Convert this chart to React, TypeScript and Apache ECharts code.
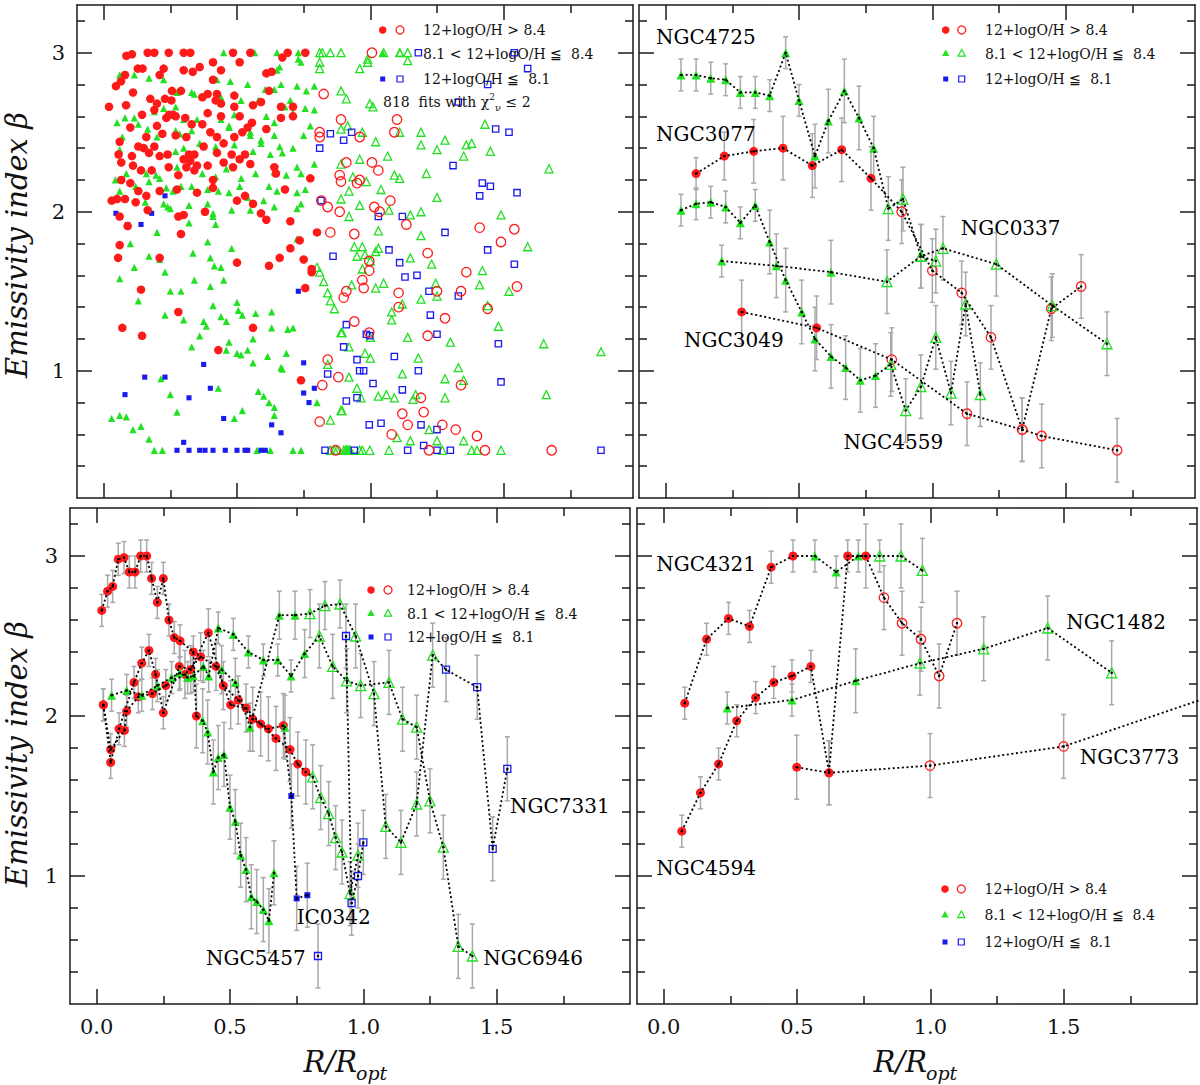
import { useEffect, useRef } from 'react';
import * as echarts from 'echarts';

const FONT = '"DejaVu Serif", serif';
const RED = '#ff1a1a';
const GREEN = '#22e022';
const BLUE = '#1a1aee';
const INK = '#1a1a1a';

// axis ticks
const xMajorTicks = [0, 0.5, 1, 1.5];
const xMinorTicks = [0.25, 0.75, 1.25, 1.75];
const yMajorTicks = [1, 2, 3];
const yMinorTicks = [0.4, 0.6, 0.8, 1.2, 1.4, 1.6, 1.8, 2.2, 2.4, 2.6, 2.8, 3.2];

const legendTexts = ['12+logO/H > 8.4', '8.1 < 12+logO/H ≦  8.4', '12+logO/H ≦  8.1'];

// ---- top-left: all fits ----
const tlRedFilled = [
  [0.085, 2.98], [0.106, 2.99], [0.165, 3.0], [0.19, 3.0], [0.244, 3.0], [0.3, 3.0], [0.325, 3.0], [0.485, 3.0], [0.55, 3.0],
  [0.69, 3.0], [0.756, 3.0], [0.67, 2.97], [0.128, 2.9], [0.146, 2.9], [0.21, 2.86], [0.225, 2.9], [0.3, 2.89], [0.334, 2.88],
  [0.36, 2.91], [0.41, 2.94], [0.44, 2.89], [0.51, 2.94], [0.61, 2.87], [0.63, 2.88], [0.08, 2.86], [0.065, 2.82], [0.046, 2.79],
  [0.11, 2.75], [0.084, 2.67], [0.02, 2.66], [0.256, 2.76], [0.29, 2.76], [0.254, 2.7], [0.175, 2.71], [0.2, 2.68], [0.23, 2.71],
  [0.39, 2.74], [0.37, 2.72], [0.41, 2.83], [0.425, 2.74], [0.49, 2.73], [0.44, 2.68], [0.42, 2.7], [0.49, 2.66], [0.56, 2.67],
  [0.59, 2.69], [0.62, 2.76], [0.665, 2.66], [0.71, 2.66], [0.144, 2.61], [0.19, 2.64], [0.235, 2.59], [0.246, 2.61], [0.26, 2.61],
  [0.27, 2.6], [0.306, 2.59], [0.33, 2.55], [0.37, 2.55], [0.39, 2.62], [0.44, 2.6], [0.51, 2.6], [0.54, 2.53], [0.556, 2.56],
  [0.61, 2.52], [0.665, 2.59], [0.71, 2.6], [0.1, 2.53], [0.16, 2.47], [0.2, 2.54], [0.22, 2.49], [0.27, 2.48], [0.31, 2.47],
  [0.4, 2.5], [0.425, 2.47], [0.45, 2.43], [0.49, 2.47], [0.52, 2.5], [0.06, 2.44], [0.106, 2.35], [0.13, 2.41], [0.15, 2.4],
  [0.17, 2.37], [0.19, 2.41], [0.24, 2.36], [0.21, 2.35], [0.375, 2.41], [0.34, 2.36], [0.32, 2.36], [0.3, 2.33], [0.325, 2.32],
  [0.35, 2.29], [0.39, 2.29], [0.425, 2.37], [0.45, 2.31], [0.48, 2.36], [0.51, 2.33], [0.53, 2.36], [0.55, 2.3], [0.056, 2.36],
  [0.066, 2.31], [0.11, 2.29], [0.14, 2.26], [0.18, 2.26], [0.244, 2.28], [0.28, 2.23], [0.31, 2.28], [0.34, 2.26], [0.41, 2.2],
  [0.485, 2.28], [0.64, 2.28], [0.646, 2.24], [0.066, 2.2], [0.1, 2.18], [0.13, 2.13], [0.16, 2.1], [0.21, 2.13], [0.275, 2.14],
  [0.35, 2.12], [0.41, 2.15], [0.5, 2.07], [0.53, 2.1], [0.56, 2.05], [0.59, 1.99], [0.61, 1.95], [0.68, 2.14], [0.7, 1.94],
  [0.775, 2.21], [0.03, 2.07], [0.05, 2.08], [0.06, 1.97], [0.08, 2.08], [0.09, 1.91], [0.12, 2.06], [0.165, 2.01], [0.28, 1.97],
  [0.3, 1.98], [0.38, 2.0], [0.29, 1.86], [0.06, 1.79], [0.7, 1.77], [0.735, 1.82], [0.8, 1.87], [0.054, 1.71], [0.21, 1.71],
  [0.5, 1.68], [0.62, 1.66], [0.66, 1.71], [0.75, 1.7], [0.78, 1.64], [0.78, 1.62], [0.14, 1.51], [0.756, 1.52], [0.28, 1.37],
  [0.07, 1.27], [0.144, 1.22], [0.56, 1.27], [0.43, 1.13], [0.74, 0.94],
];
const tlRedOpen = [
  [0.825, 2.74], [0.89, 2.58], [0.81, 2.5], [0.81, 2.47], [0.91, 2.31], [0.885, 2.23], [0.89, 2.19], [0.95, 2.18], [0.885, 2.0],
  [0.816, 2.07], [0.84, 2.03], [0.85, 1.87], [0.94, 1.86], [1.006, 3.0], [1.1, 2.58], [1.09, 2.5], [0.96, 2.47], [1.006, 2.31],
  [1.03, 2.26], [0.96, 2.2], [1.075, 2.07], [1.015, 2.03], [1.035, 2.0], [1.135, 1.92], [1.41, 1.9], [1.54, 1.89], [1.49, 1.81],
  [0.84, 1.07], [0.82, 0.91], [0.88, 0.96], [0.81, 0.68], [0.9, 1.46], [0.91, 1.5], [0.94, 1.31], [0.87, 0.5], [1.215, 1.74],
  [0.996, 1.69], [0.996, 1.63], [1.36, 1.62], [0.97, 1.57], [0.975, 1.52], [1.106, 1.49], [1.25, 1.5], [1.34, 1.5], [1.55, 1.53],
  [1.106, 1.4], [1.44, 1.39], [1.28, 1.33], [0.996, 1.24], [1.215, 1.22], [1.34, 0.91], [1.19, 0.83], [1.2, 0.74], [1.12, 0.73],
  [1.14, 0.66], [1.27, 0.66], [1.32, 0.63], [1.08, 0.6], [1.4, 0.59], [1.22, 0.5], [1.43, 0.5], [1.68, 0.5],
];
const tlGreenFilled = [
  [0.45, 3.0], [0.566, 3.0], [0.65, 3.0], [0.73, 3.0], [0.73, 2.96], [0.74, 2.94], [0.66, 2.91], [0.65, 2.89], [0.06, 2.86],
  [0.115, 2.86], [0.17, 2.84], [0.225, 2.83], [0.425, 2.83], [0.475, 2.82], [0.54, 2.8], [0.606, 2.77], [0.665, 2.8], [0.725, 2.79],
  [0.76, 2.76], [0.79, 2.79], [0.33, 2.75], [0.34, 2.74], [0.275, 2.75], [0.44, 2.72], [0.515, 2.7], [0.58, 2.7], [0.64, 2.77],
  [0.7, 2.7], [0.68, 2.66], [0.756, 2.65], [0.79, 2.64], [0.19, 2.63], [0.225, 2.65], [0.27, 2.66], [0.115, 2.59], [0.08, 2.59],
  [0.3, 2.58], [0.35, 2.58], [0.44, 2.58], [0.47, 2.54], [0.49, 2.61], [0.55, 2.5], [0.55, 2.48], [0.61, 2.6], [0.64, 2.56],
  [0.71, 2.62], [0.775, 2.54], [0.05, 2.56], [0.13, 2.55], [0.165, 2.52], [0.07, 2.47], [0.2, 2.47], [0.27, 2.51], [0.285, 2.49],
  [0.33, 2.51], [0.47, 2.53], [0.59, 2.45], [0.64, 2.48], [0.66, 2.41], [0.75, 2.48], [0.06, 2.39], [0.16, 2.4], [0.27, 2.38],
  [0.3, 2.4], [0.36, 2.43], [0.42, 2.41], [0.49, 2.42], [0.59, 2.43], [0.56, 2.38], [0.625, 2.36], [0.67, 2.37], [0.71, 2.4],
  [0.79, 2.3], [0.044, 2.2], [0.085, 2.24], [0.16, 2.24], [0.196, 2.23], [0.21, 2.21], [0.275, 2.28], [0.37, 2.24], [0.42, 2.22],
  [0.46, 2.27], [0.516, 2.21], [0.57, 2.24], [0.64, 2.25], [0.685, 2.23], [0.725, 2.28], [0.74, 2.24], [0.06, 2.13], [0.12, 2.16],
  [0.17, 2.19], [0.235, 2.15], [0.26, 2.13], [0.29, 2.16], [0.33, 2.16], [0.39, 2.14], [0.43, 2.13], [0.47, 2.12], [0.51, 2.16],
  [0.54, 2.09], [0.62, 2.16], [0.65, 2.13], [0.725, 2.12], [0.756, 2.14], [0.156, 2.06], [0.225, 2.05], [0.24, 2.03], [0.25, 2.02],
  [0.32, 2.04], [0.39, 2.05], [0.41, 1.99], [0.48, 2.01], [0.55, 2.01], [0.6, 2.07], [0.64, 2.03], [0.725, 2.02], [0.74, 2.05],
  [0.2, 1.87], [0.32, 1.93], [0.41, 1.97], [0.42, 1.92], [0.1, 1.8], [0.39, 1.81], [0.48, 1.77], [0.725, 1.83], [0.17, 1.72],
  [0.21, 1.7], [0.335, 1.74], [0.4, 1.71], [0.115, 1.65], [0.06, 1.58], [0.23, 1.62], [0.415, 1.66], [0.44, 1.65], [0.34, 1.57],
  [0.45, 1.57], [0.4, 1.53], [0.25, 1.5], [0.29, 1.5], [0.13, 1.44], [0.5, 1.43], [0.41, 1.41], [0.505, 1.38], [0.23, 1.35],
  [0.44, 1.34], [0.52, 1.35], [0.57, 1.36], [0.63, 1.37], [0.3, 1.32], [0.375, 1.31], [0.46, 1.31], [0.385, 1.28], [0.63, 1.27],
  [0.69, 1.26], [0.71, 1.27], [0.36, 1.22], [0.56, 1.2], [0.47, 1.18], [0.33, 1.15], [0.46, 1.13], [0.5, 1.11], [0.515, 1.1],
  [0.54, 1.13], [0.615, 1.09], [0.685, 1.11], [0.56, 1.05], [0.665, 1.02], [0.67, 1.01], [0.215, 0.95], [0.43, 0.89], [0.58, 0.87],
  [0.25, 0.85], [0.6, 0.84], [0.62, 0.8], [0.64, 0.77], [0.275, 0.74], [0.52, 0.75], [0.64, 0.72], [0.03, 0.7], [0.06, 0.72],
  [0.085, 0.71], [0.49, 0.7], [0.14, 0.65], [0.11, 0.63], [0.17, 0.57], [0.19, 0.5], [0.22, 0.5], [0.575, 0.5], [0.625, 0.5],
  [0.71, 0.5], [0.74, 0.5], [0.8, 0.8],
];
const tlGreenOpen = [
  [0.81, 3.0], [0.82, 3.0], [0.85, 3.0], [0.89, 3.0], [0.81, 2.94], [0.81, 2.9], [1.05, 3.0], [1.11, 3.0], [1.14, 3.0], [1.14, 2.95],
  [0.99, 2.96], [0.96, 2.9], [0.99, 2.94], [0.89, 2.76], [0.91, 2.71], [0.998, 2.68], [1.01, 2.66], [0.89, 2.52], [0.915, 2.54],
  [0.97, 2.5], [1.02, 2.44], [1.11, 2.5], [1.19, 2.5], [1.19, 2.42], [1.25, 2.39], [1.28, 2.45], [1.36, 2.42], [1.38, 2.43],
  [1.35, 2.35], [1.45, 2.38], [1.43, 2.55], [1.065, 2.35], [0.96, 2.33], [0.89, 2.3], [0.935, 2.22], [0.985, 2.19], [1.09, 2.23],
  [1.11, 2.21], [1.21, 2.24], [0.92, 2.13], [1.04, 2.14], [0.89, 2.08], [0.96, 2.04], [1.25, 2.09], [1.67, 2.27], [0.92, 1.97],
  [1.07, 2.01], [1.15, 1.98], [1.19, 2.0], [1.49, 1.98], [1.03, 1.88], [1.19, 1.85], [0.94, 1.78], [0.97, 1.78], [1.03, 1.77],
  [1.59, 1.78], [0.8, 1.65], [0.81, 1.62], [0.825, 1.56], [0.84, 1.49], [0.85, 1.44], [0.865, 1.39], [0.89, 1.24], [0.92, 1.15],
  [0.93, 1.54], [0.89, 0.75], [0.85, 0.69], [0.84, 1.04], [0.95, 0.89], [0.92, 0.96], [0.85, 0.5], [0.865, 0.5], [0.875, 0.5],
  [0.9, 0.5], [0.906, 0.5], [0.915, 0.5], [0.925, 0.5], [0.96, 0.5], [0.95, 1.72], [0.98, 1.73], [1.02, 1.75], [1.0, 1.69],
  [1.15, 1.71], [1.23, 1.67], [1.42, 1.63], [0.97, 1.64], [1.05, 1.55], [1.02, 1.52], [1.245, 1.55], [1.25, 1.47], [1.41, 1.54],
  [1.52, 1.5], [1.19, 1.45], [1.12, 1.42], [1.44, 1.41], [1.08, 1.37], [1.08, 1.32], [1.48, 1.28], [0.894, 1.24], [1.0, 1.21],
  [1.14, 1.21], [1.3, 1.18], [1.65, 1.17], [1.865, 1.12], [0.98, 1.11], [1.0, 1.08], [1.18, 1.08], [1.33, 1.02], [1.12, 0.98],
  [1.28, 0.95], [1.35, 0.94], [0.965, 0.83], [1.03, 0.84], [1.06, 0.85], [1.09, 0.83], [1.16, 0.82], [1.17, 0.85], [1.28, 0.83],
  [1.66, 0.85], [0.894, 0.75], [1.22, 0.63], [1.1, 0.58], [1.15, 0.56], [1.25, 0.56], [1.35, 0.56], [0.91, 0.5], [0.92, 0.5],
  [0.97, 0.5], [0.998, 0.5], [1.07, 0.5], [1.27, 0.5], [1.38, 0.5], [1.4, 0.5], [1.49, 0.5],
];
const tlBlueFilled = [
  [0.046, 1.99], [0.09, 1.92], [0.14, 1.92], [0.18, 1.99], [0.23, 2.1], [0.73, 1.5], [0.75, 1.05], [0.75, 0.86], [0.79, 0.89],
  [0.77, 0.8], [0.375, 1.04], [0.154, 0.96], [0.23, 0.96], [0.08, 0.85], [0.32, 0.83], [0.4, 0.89], [0.45, 0.7], [0.63, 0.66],
  [0.665, 0.61], [0.3, 0.55], [0.275, 0.5], [0.32, 0.5], [0.36, 0.5], [0.38, 0.5], [0.41, 0.5], [0.456, 0.5], [0.5, 0.5],
  [0.53, 0.5], [0.54, 0.5], [0.59, 0.5], [0.606, 0.5],
];
const tlBlueOpen = [
  [0.85, 2.49], [0.9, 2.45], [0.93, 2.5], [0.81, 2.4], [0.815, 2.07], [1.18, 3.0], [1.54, 3.0], [1.59, 2.9], [1.44, 2.8],
  [1.33, 2.69], [1.47, 2.52], [1.52, 2.5], [1.31, 2.29], [1.42, 2.18], [1.45, 2.16], [1.41, 2.1], [1.55, 2.12], [1.03, 1.97],
  [1.12, 1.97], [1.28, 1.87], [1.07, 1.76], [1.44, 1.76], [0.86, 1.72], [0.91, 1.29], [0.9, 1.15], [0.84, 0.98], [0.91, 0.81],
  [0.95, 1.07], [0.96, 1.0], [0.95, 0.83], [0.83, 0.5], [0.94, 0.5], [1.54, 1.67], [1.11, 1.68], [1.13, 1.59], [1.175, 1.6],
  [1.22, 1.5], [1.33, 1.47], [1.225, 1.35], [0.985, 1.23], [0.998, 1.22], [1.25, 1.23], [1.48, 1.17], [1.09, 1.09], [0.975, 1.0],
  [1.18, 1.0], [1.01, 0.92], [1.49, 0.93], [1.12, 0.88], [0.996, 0.66], [1.04, 0.67], [1.19, 0.66], [1.25, 0.63], [1.2, 0.53],
  [1.14, 0.5], [1.25, 0.5], [1.3, 0.5], [1.865, 0.5],
];

// ---- radial profiles: [R/Ropt, beta, error, marker kind] ----
type Pt = [number, number, number, string];

const ngc4725: Pt[] = [
  [0.0575, 2.86, 0.1, 'gf'], [0.114, 2.86, 0.1, 'gf'], [0.169, 2.84, 0.1, 'gf'], [0.225, 2.83, 0.1, 'gf'], [0.28, 2.75, 0.1, 'gf'],
  [0.336, 2.75, 0.1, 'gf'], [0.39, 2.73, 0.1, 'gf'], [0.45, 3.0, 0.1, 'gf'], [0.5, 2.7, 0.1, 'gf'], [0.56, 2.35, 0.2, 'gf'],
  [0.61, 2.57, 0.2, 'gf'], [0.67, 2.76, 0.2, 'gf'], [0.725, 2.59, 0.2, 'gf'], [0.78, 2.4, 0.2, 'gf'], [0.835, 2.02, 0.2, 'go'],
  [0.89, 2.08, 0.2, 'go'], [0.957, 1.72, 0.2, 'go'], [1.013, 1.69, 0.2, 'go'],
];
const ngc3077: Pt[] = [
  [0.114, 2.24, 0.1, 'rf'], [0.22, 2.35, 0.15, 'rf'], [0.33, 2.38, 0.2, 'rf'], [0.44, 2.4, 0.2, 'rf'], [0.55, 2.29, 0.2, 'rf'],
  [0.66, 2.39, 0.2, 'rf'], [0.77, 2.21, 0.2, 'rf'], [0.885, 2.0, 0.2, 'ro'], [1.0, 1.63, 0.2, 'ro'], [1.11, 1.49, 0.2, 'ro'],
  [1.22, 1.21, 0.2, 'ro'], [1.337, 0.63, 0.2, 'ro'], [1.446, 1.39, 0.2, 'ro'], [1.558, 1.53, 0.2, 'ro'],
];
const ngc4559: Pt[] = [
  [0.0575, 2.01, 0.1, 'gf'], [0.114, 2.05, 0.1, 'gf'], [0.169, 2.06, 0.1, 'gf'], [0.225, 2.03, 0.1, 'gf'], [0.28, 1.93, 0.1, 'gf'],
  [0.336, 2.04, 0.1, 'gf'], [0.39, 1.81, 0.2, 'gf'], [0.45, 1.57, 0.2, 'gf'], [0.51, 1.37, 0.2, 'gf'], [0.56, 1.2, 0.2, 'gf'],
  [0.62, 1.09, 0.2, 'gf'], [0.675, 1.02, 0.2, 'gf'], [0.73, 0.94, 0.2, 'gf'], [0.787, 0.97, 0.2, 'gf'], [0.844, 1.04, 0.2, 'go'],
  [0.9, 0.75, 0.2, 'go'], [0.957, 0.9, 0.2, 'go'], [1.013, 1.21, 0.2, 'go'], [1.07, 0.86, 0.2, 'go'], [1.125, 1.42, 0.2, 'go'],
  [1.18, 0.85, 0.2, 'go'],
];
const ngc0337: Pt[] = [
  [0.21, 1.69, 0.1, 'gf'], [0.415, 1.66, 0.2, 'gf'], [0.62, 1.62, 0.2, 'gf'], [0.83, 1.56, 0.2, 'go'], [0.957, 1.72, 0.2, 'go'],
  [1.04, 1.77, 0.2, 'go'], [1.24, 1.67, 0.2, 'go'], [1.45, 1.41, 0.2, 'go'], [1.655, 1.17, 0.2, 'go'],
];
const ngc3049: Pt[] = [
  [0.285, 1.37, 0.2, 'rf'], [0.566, 1.27, 0.2, 'rf'], [0.848, 1.07, 0.2, 'ro'], [1.13, 0.73, 0.2, 'ro'], [1.337, 0.63, 0.2, 'ro'],
  [1.41, 0.59, 0.2, 'ro'], [1.693, 0.5, 0.2, 'ro'],
];

const ngc5457: Pt[] = [
  [0.019, 2.66, 0.1, 'rf'], [0.041, 2.78, 0.1, 'rf'], [0.06, 2.81, 0.1, 'rf'], [0.081, 2.98, 0.1, 'rf'], [0.1025, 2.99, 0.1, 'rf'],
  [0.1225, 2.9, 0.1, 'rf'], [0.144, 2.9, 0.1, 'rf'], [0.165, 3.0, 0.1, 'rf'], [0.1875, 3.0, 0.1, 'rf'], [0.206, 2.86, 0.1, 'rf'],
  [0.2275, 2.71, 0.1, 'rf'], [0.25, 2.86, 0.1, 'rf'], [0.271, 2.6, 0.1, 'rf'], [0.291, 2.49, 0.1, 'rf'], [0.3125, 2.47, 0.1, 'rf'],
  [0.3625, 2.4, 0.1, 'rf'], [0.374, 2.0, 0.2, 'rf'], [0.3975, 1.97, 0.2, 'gf'], [0.416, 1.9, 0.2, 'gf'], [0.4375, 1.65, 0.2, 'gf'],
  [0.456, 1.74, 0.2, 'gf'], [0.4775, 1.76, 0.2, 'gf'], [0.5, 1.43, 0.2, 'gf'], [0.52, 1.34, 0.2, 'gf'], [0.54, 1.13, 0.2, 'gf'],
  [0.56, 1.04, 0.2, 'gf'], [0.58, 0.87, 0.2, 'gf'], [0.6, 0.84, 0.2, 'gf'], [0.625, 0.79, 0.2, 'gf'], [0.646, 0.72, 0.2, 'gf'],
  [0.665, 1.02, 0.2, 'gf'],
];
const ic0342: Pt[] = [
  [0.025, 2.07, 0.1, 'rf'], [0.0525, 1.71, 0.1, 'rf'], [0.084, 1.92, 0.1, 'rf'], [0.14, 2.21, 0.1, 'rf'], [0.169, 2.33, 0.1, 'rf'],
  [0.196, 2.41, 0.1, 'rf'], [0.221, 2.26, 0.1, 'rf'], [0.25, 2.02, 0.1, 'rf'], [0.31, 2.31, 0.15, 'rf'], [0.3525, 2.29, 0.15, 'rf'],
  [0.419, 2.52, 0.15, 'rf'], [0.475, 2.19, 0.15, 'rf'], [0.531, 2.1, 0.15, 'rf'], [0.585, 1.98, 0.2, 'rf'], [0.644, 1.92, 0.2, 'rf'],
  [0.7, 1.94, 0.2, 'rf'], [0.73, 1.5, 0.2, 'bf'], [0.75, 0.86, 0.2, 'bf'], [0.79, 0.88, 0.2, 'bf'],
];
const blProfileA: Pt[] = [
  [0.025, 2.07, 0.1, 'rf'], [0.0525, 1.79, 0.1, 'rf'], [0.104, 1.91, 0.1, 'rf'], [0.1125, 2.03, 0.1, 'rf'], [0.156, 2.12, 0.1, 'rf'],
  [0.209, 2.14, 0.1, 'rf'], [0.259, 2.19, 0.1, 'rf'], [0.331, 2.26, 0.15, 'rf'], [0.39, 2.37, 0.15, 'rf'], [0.4475, 2.31, 0.15, 'rf'],
  [0.5025, 2.07, 0.15, 'rf'], [0.56, 2.05, 0.15, 'rf'], [0.615, 1.95, 0.2, 'rf'], [0.6725, 1.86, 0.2, 'rf'], [0.725, 1.79, 0.2, 'rf'],
  [0.754, 1.7, 0.2, 'rf'], [0.784, 1.65, 0.2, 'rf'], [0.81, 1.62, 0.2, 'go'], [0.84, 1.49, 0.2, 'go'], [0.87, 1.39, 0.2, 'go'],
  [0.896, 1.24, 0.2, 'go'], [0.92, 1.15, 0.2, 'go'], [0.95, 0.89, 0.2, 'go'], [0.98, 1.13, 0.2, 'go'],
];
const ngc6946: Pt[] = [
  [0.056, 2.13, 0.1, 'gf'], [0.1125, 2.16, 0.1, 'gf'], [0.169, 2.13, 0.1, 'gf'], [0.2275, 2.19, 0.1, 'gf'], [0.281, 2.24, 0.1, 'gf'],
  [0.3125, 2.27, 0.1, 'gf'], [0.341, 2.24, 0.1, 'gf'], [0.3625, 2.25, 0.1, 'gf'], [0.4, 2.31, 0.1, 'gf'], [0.42, 2.25, 0.1, 'gf'],
  [0.456, 2.55, 0.1, 'gf'], [0.5125, 2.51, 0.1, 'gf'], [0.569, 2.4, 0.1, 'gf'], [0.625, 2.35, 0.1, 'gf'], [0.679, 2.35, 0.1, 'gf'],
  [0.729, 2.25, 0.1, 'gf'], [0.78, 2.39, 0.15, 'gf'], [0.835, 2.5, 0.2, 'go'], [0.885, 2.31, 0.2, 'go'], [0.9375, 2.22, 0.2, 'go'],
  [0.99, 2.19, 0.2, 'go'], [1.096, 2.21, 0.2, 'go'], [1.147, 1.98, 0.2, 'go'], [1.2, 1.93, 0.2, 'go'], [1.25, 1.47, 0.2, 'go'],
  [1.3, 1.18, 0.2, 'go'], [1.356, 0.56, 0.2, 'go'], [1.409, 0.5, 0.2, 'go'],
];
const ngc7331: Pt[] = [
  [0.469, 2.29, 0.15, 'gf'], [0.52, 2.21, 0.15, 'gf'], [0.575, 1.93, 0.15, 'gf'], [0.685, 2.63, 0.15, 'gf'], [0.744, 2.63, 0.15, 'gf'],
  [0.8, 2.64, 0.15, 'go'], [0.856, 2.69, 0.15, 'go'], [0.9125, 2.7, 0.15, 'go'], [0.971, 2.5, 0.2, 'go'], [1.04, 2.14, 0.2, 'go'],
  [1.084, 1.31, 0.2, 'go'], [1.141, 1.21, 0.2, 'go'], [1.2, 1.45, 0.2, 'go'], [1.26, 2.38, 0.2, 'go'], [1.31, 2.29, 0.2, 'bo'],
  [1.427, 2.18, 0.2, 'bo'], [1.485, 1.17, 0.2, 'bo'], [1.54, 1.67, 0.2, 'bo'],
];
const blProfileB: Pt[] = [[0.935, 2.5, 0.2, 'bo'], [0.956, 0.83, 0.2, 'bo'], [0.98, 1.0, 0.2, 'bo'], [1.0, 1.21, 0.2, 'bo']];
const blSingleA: Pt[] = [[0.706, 1.93, 0.2, 'gf']];
const blSingleB: Pt[] = [[0.83, 0.5, 0.2, 'bo']];

const ngc4321: Pt[] = [
  [0.079, 2.08, 0.1, 'rf'], [0.161, 2.48, 0.1, 'rf'], [0.243, 2.61, 0.1, 'rf'], [0.322, 2.56, 0.1, 'rf'], [0.403, 2.93, 0.1, 'rf'],
  [0.485, 3.0, 0.1, 'rf'], [0.567, 3.0, 0.1, 'gf'], [0.647, 2.9, 0.1, 'gf'], [0.73, 3.0, 0.1, 'gf'], [0.81, 3.0, 0.1, 'go'],
  [0.89, 3.0, 0.2, 'go'], [0.97, 2.91, 0.2, 'go'],
];
const ngc4594: Pt[] = [
  [0.068, 1.28, 0.1, 'rf'], [0.138, 1.52, 0.1, 'rf'], [0.206, 1.7, 0.1, 'rf'], [0.274, 1.97, 0.1, 'rf'], [0.345, 2.115, 0.1, 'rf'],
  [0.413, 2.21, 0.1, 'rf'], [0.481, 2.25, 0.1, 'rf'], [0.552, 2.31, 0.1, 'rf'], [0.62, 1.645, 0.2, 'rf'], [0.69, 3.0, 0.1, 'rf'],
  [0.758, 3.0, 0.2, 'rf'], [0.826, 2.74, 0.2, 'ro'], [0.894, 2.58, 0.2, 'ro'], [0.965, 2.48, 0.2, 'ro'], [1.033, 2.25, 0.2, 'ro'],
  [1.1, 2.58, 0.2, 'ro'],
];
const ngc3773: Pt[] = [
  [0.499, 1.68, 0.2, 'rf'], [0.62, 1.645, 0.2, 'rf'], [0.999, 1.69, 0.2, 'ro'], [1.5, 1.81, 0.2, 'ro'], [2.1, 2.15, 0.2, 'ro'],
];
const ngc1482: Pt[] = [
  [0.2385, 2.05, 0.1, 'gf'], [0.481, 2.1, 0.1, 'gf'], [0.72, 2.22, 0.2, 'gf'], [0.961, 2.33, 0.2, 'go'], [1.2, 2.42, 0.2, 'go'],
  [1.44, 2.55, 0.2, 'go'], [1.68, 2.27, 0.2, 'go'],
];

// galaxy names: [name, x of text start, y]
const trNames: [string, number, number][] = [
  ['NGC4725', -0.036, 3.096], ['NGC3077', -0.036, 2.49], ['NGC0337', 1.107, 1.9], ['NGC3049', 0.069, 1.195], ['NGC4559', 0.667, 0.55],
];
const blNames: [string, number, number][] = [
  ['NGC7331', 1.55, 1.437], ['IC0342', 0.75, 0.743], ['NGC5457', 0.41, 0.49], ['NGC6946', 1.45, 0.487],
];
const brNames: [string, number, number][] = [
  ['NGC4321', -0.028, 2.95], ['NGC1482', 1.51, 2.59], ['NGC3773', 1.56, 1.745], ['NGC4594', -0.028, 1.05],
];

const kindStyle: Record<string, { symbol: string; size: number; color: string; fill: boolean }> = {
  rf: { symbol: 'circle', size: 9, color: RED, fill: true },
  ro: { symbol: 'circle', size: 9.5, color: RED, fill: false },
  gf: { symbol: 'triangle', size: 9, color: GREEN, fill: true },
  go: { symbol: 'triangle', size: 10, color: GREEN, fill: false },
  bf: { symbol: 'rect', size: 6, color: BLUE, fill: true },
  bo: { symbol: 'rect', size: 7, color: BLUE, fill: false },
};

const panels = [
  { left: 77, top: 5, width: 556, height: 493, xMax: 1.985, xLabels: false, yLabels: true },
  { left: 639, top: 5, width: 556, height: 493, xMax: 1.985, xLabels: false, yLabels: false },
  { left: 70, top: 508, width: 560, height: 496, xMax: 2.0, xLabels: true, yLabels: true },
  { left: 637, top: 508, width: 560, height: 496, xMax: 2.0, xLabels: true, yLabels: false },
];

function buildAxes() {
  const xAxis: any[] = [];
  const yAxis: any[] = [];
  const line = { color: INK, width: 1.5 };
  panels.forEach((p, g) => {
    for (const pos of ['bottom', 'top']) {
      for (const major of [true, false]) {
        const ticks = major ? xMajorTicks : xMinorTicks;
        xAxis.push({
          type: 'value', gridIndex: g, position: pos, min: -0.1, max: p.xMax, silent: true,
          splitLine: { show: false },
          axisLine: { show: major, onZero: false, lineStyle: line },
          axisTick: { show: true, inside: true, length: major ? 15 : 8, customValues: ticks, lineStyle: line },
          axisLabel: {
            show: major && pos === 'bottom' && p.xLabels, customValues: ticks,
            formatter: (v: number) => v.toFixed(1), fontFamily: FONT, fontSize: 21, color: '#111', margin: 12,
          },
        });
      }
    }
    for (const pos of ['left', 'right']) {
      for (const major of [true, false]) {
        const ticks = major ? yMajorTicks : yMinorTicks;
        yAxis.push({
          type: 'value', gridIndex: g, position: pos, min: 0.2, max: 3.3, silent: true,
          splitLine: { show: false },
          axisLine: { show: major, onZero: false, lineStyle: line },
          axisTick: { show: true, inside: true, length: major ? 15 : 8, customValues: ticks, lineStyle: line },
          axisLabel: {
            show: major && pos === 'left' && p.yLabels, customValues: ticks,
            formatter: (v: number) => String(Math.round(v)), fontFamily: FONT, fontSize: 21, color: '#111', margin: 12,
          },
        });
      }
    }
  });
  return { xAxis, yAxis };
}

function markerSeries(g: number, kind: string, data: number[][], scale: number) {
  const s = kindStyle[kind];
  return {
    type: 'scatter', xAxisIndex: g * 4, yAxisIndex: g * 4, data, symbol: s.symbol, symbolSize: s.size * scale,
    itemStyle: s.fill
      ? { color: s.color, opacity: 1 }
      : { color: 'rgba(255,255,255,0)', borderColor: s.color, borderWidth: 1.3, opacity: 1 },
    clip: true, silent: true, z: 2,
  };
}

function errorBar(_params: any, api: any) {
  const x = api.value(0);
  const y = api.value(1);
  const e = api.value(2);
  const hi = api.coord([x, y + e]);
  const lo = api.coord([x, y - e]);
  const style = { stroke: '#a9a9a9', lineWidth: 1.5 };
  return {
    type: 'group',
    children: [
      { type: 'line', shape: { x1: hi[0], y1: hi[1], x2: lo[0], y2: lo[1] }, style },
      { type: 'line', shape: { x1: hi[0] - 2.5, y1: hi[1], x2: hi[0] + 2.5, y2: hi[1] }, style },
      { type: 'line', shape: { x1: lo[0] - 2.5, y1: lo[1], x2: lo[0] + 2.5, y2: lo[1] }, style },
    ],
  };
}

function profileSeries(g: number, profiles: Pt[][], names: [string, number, number][]) {
  const all = profiles.flat();
  const out: any[] = [{
    type: 'custom', xAxisIndex: g * 4, yAxisIndex: g * 4, renderItem: errorBar, encode: { x: 0, y: 1 },
    data: all.map((p) => [p[0], p[1], p[2]]), clip: true, silent: true, z: 1,
  }];
  for (const k of Object.keys(kindStyle)) {
    const d = all.filter((p) => p[3] === k).map((p) => [p[0], p[1]]);
    if (d.length) out.push(markerSeries(g, k, d, 1));
  }
  for (const prof of profiles) {
    out.push({
      type: 'line', xAxisIndex: g * 4, yAxisIndex: g * 4, data: prof.map((p) => [p[0], p[1]]),
      lineStyle: { color: '#000', width: 1.8, type: [2, 2.6] }, symbol: 'circle', symbolSize: 2.5,
      itemStyle: { color: '#000' }, clip: true, silent: true, z: 3,
    });
  }
  out.push({
    type: 'scatter', xAxisIndex: g * 4, yAxisIndex: g * 4, symbolSize: 0, silent: true, z: 5,
    itemStyle: { opacity: 1 },
    data: names.map((n) => ({ name: n[0], value: [n[1], n[2]] })),
    label: {
      show: true, formatter: '{b}', position: 'right', distance: 0, fontFamily: FONT, fontSize: 20,
      color: '#000', opacity: 1, textBorderWidth: 0,
    },
  });
  return out;
}

function legend(sx1: number, sx2: number, tx: number, rows: number[]) {
  const els: any[] = [
    { type: 'circle', shape: { cx: sx1, cy: rows[0], r: 3.8 }, style: { fill: RED } },
    { type: 'circle', shape: { cx: sx2, cy: rows[0], r: 4 }, style: { fill: 'none', stroke: RED, lineWidth: 1.3 } },
    { type: 'polygon', shape: { points: [[sx1, rows[1] - 4], [sx1 - 3.6, rows[1] + 2.6], [sx1 + 3.6, rows[1] + 2.6]] }, style: { fill: GREEN } },
    { type: 'polygon', shape: { points: [[sx2, rows[1] - 4], [sx2 - 3.6, rows[1] + 2.6], [sx2 + 3.6, rows[1] + 2.6]] }, style: { fill: 'none', stroke: GREEN, lineWidth: 1.2 } },
    { type: 'rect', shape: { x: sx1 - 2.5, y: rows[2] - 2.5, width: 5, height: 5 }, style: { fill: BLUE } },
    { type: 'rect', shape: { x: sx2 - 3, y: rows[2] - 3, width: 6, height: 6 }, style: { fill: 'none', stroke: BLUE, lineWidth: 1.2 } },
  ];
  legendTexts.forEach((t, i) => {
    els.push({
      type: 'text', x: tx, y: rows[i],
      style: { text: t, fontFamily: FONT, fontSize: 14, fill: '#111', align: 'left', verticalAlign: 'middle', textAlign: 'left', textVerticalAlign: 'middle' },
    });
  });
  return els;
}

function yName(cy: number) {
  return {
    type: 'text', x: 17, y: cy, rotation: Math.PI / 2,
    style: {
      text: 'Emissivity index β', fontFamily: FONT, fontStyle: 'italic', fontSize: 29, fill: '#111',
      align: 'center', verticalAlign: 'middle', textAlign: 'center', textVerticalAlign: 'middle',
    },
  };
}

function xName(rx: number) {
  return [
    {
      type: 'text', x: rx, y: 1062,
      style: { text: 'R/R', fontFamily: FONT, fontStyle: 'italic', fontSize: 29, fill: '#111', align: 'right', verticalAlign: 'middle', textAlign: 'right', textVerticalAlign: 'middle' },
    },
    {
      type: 'text', x: rx - 1, y: 1073,
      style: { text: 'opt', fontFamily: FONT, fontStyle: 'italic', fontSize: 19, fill: '#111', align: 'left', verticalAlign: 'middle', textAlign: 'left', textVerticalAlign: 'middle' },
    },
  ];
}

function buildOption() {
  const { xAxis, yAxis } = buildAxes();
  const series: any[] = [
    markerSeries(0, 'go', tlGreenOpen, 0.8),
    markerSeries(0, 'bo', tlBlueOpen, 0.9),
    markerSeries(0, 'ro', tlRedOpen, 1.0),
    markerSeries(0, 'gf', tlGreenFilled, 0.8),
    markerSeries(0, 'bf', tlBlueFilled, 0.85),
    markerSeries(0, 'rf', tlRedFilled, 0.95),
    ...profileSeries(1, [ngc4725, ngc3077, ngc4559, ngc0337, ngc3049], trNames),
    ...profileSeries(2, [ngc5457, ic0342, blProfileA, ngc6946, ngc7331, blProfileB, blSingleA, blSingleB], blNames),
    ...profileSeries(3, [ngc4321, ngc4594, ngc3773, ngc1482], brNames),
  ];
  const graphic: any[] = [
    ...legend(382.7, 400, 423, [30, 53.5, 79]),
    {
      type: 'text', x: 383, y: 102,
      style: {
        text: '{a|818  fits with χ}{sup|2}{sub|ν}{a| ≤ 2}', fill: '#111', verticalAlign: 'middle', textVerticalAlign: 'middle',
        rich: {
          a: { fontFamily: FONT, fontSize: 14, lineHeight: 20, verticalAlign: 'middle' },
          sup: { fontFamily: FONT, fontSize: 9, lineHeight: 20, verticalAlign: 'top' },
          sub: { fontFamily: FONT, fontSize: 10, lineHeight: 20, verticalAlign: 'bottom' },
        },
      },
    },
    ...legend(945.7, 961.7, 985, [30, 53.5, 79]),
    ...legend(371, 388, 407, [590, 613.5, 637]),
    ...legend(945, 961.3, 984.5, [889, 915, 942]),
    yName(245),
    yName(754),
    ...xName(357),
    ...xName(927),
  ];
  return {
    animation: false,
    backgroundColor: '#fff',
    grid: panels.map((p) => ({ left: p.left, top: p.top, width: p.width, height: p.height, containLabel: false })),
    xAxis,
    yAxis,
    series,
    graphic: { elements: graphic.map((e) => ({ z: 100, ...e })) },
  };
}

export default function App() {
  const ref = useRef<HTMLDivElement>(null);

  useEffect(() => {
    document.body.style.margin = '0';
    if (!ref.current) return;
    const chart = echarts.init(ref.current, undefined, { renderer: 'svg' });
    chart.setOption(buildOption());
    return () => {
      chart.dispose();
    };
  }, []);

  return <div ref={ref} style={{ width: 1200, height: 1085 }} />;
}
